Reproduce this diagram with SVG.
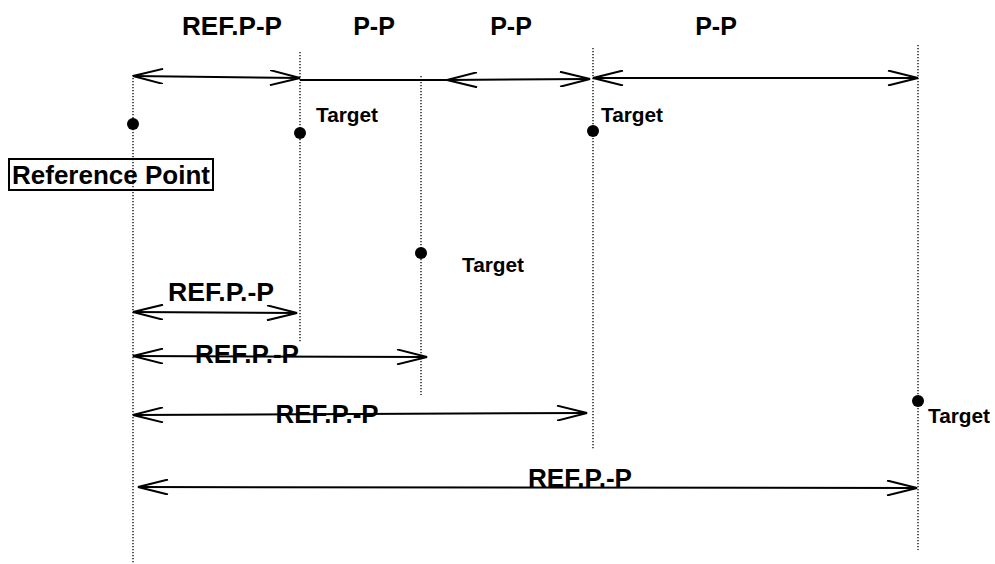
<svg xmlns="http://www.w3.org/2000/svg" width="995" height="564" viewBox="0 0 995 564">
<defs>
<style>
.guide{stroke:#000;stroke-width:1.3;stroke-dasharray:1.3 1.7;fill:none}
.dim{stroke:#000;stroke-width:2;fill:none}
.big{font-family:"Liberation Sans",Arial,sans-serif;font-weight:bold;font-size:25px;fill:#000;text-anchor:middle}
.tgt{font-family:"Liberation Sans",Arial,sans-serif;font-weight:bold;font-size:20px;fill:#000}
.dot{fill:#000}
</style>
<marker id="open" viewBox="0 0 32 16" refX="31" refY="8" markerWidth="32" markerHeight="16" markerUnits="userSpaceOnUse" orient="auto-start-reverse">
<path d="M1,0.5 L31,8 L1,15.5" fill="none" stroke="#000" stroke-width="2"/>
</marker>
</defs>
<rect width="995" height="564" fill="#fff"/>
<g id="guides">
<line class="guide" x1="133" y1="75" x2="133" y2="564"/>
<line class="guide" x1="300" y1="52" x2="300" y2="342"/>
<line class="guide" x1="421" y1="76" x2="421" y2="395"/>
<line class="guide" x1="593" y1="48" x2="593" y2="449"/>
<line class="guide" x1="918" y1="45" x2="918" y2="550"/>
</g>
<g id="connectors">
<line class="dim" x1="133" y1="76" x2="300" y2="78" marker-start="url(#open)" marker-end="url(#open)"/>
<line class="dim" x1="300" y1="80" x2="447" y2="80"/>
<line class="dim" x1="447" y1="80" x2="590" y2="79" marker-start="url(#open)" marker-end="url(#open)"/>
<line class="dim" x1="593" y1="78" x2="918" y2="78" marker-start="url(#open)" marker-end="url(#open)"/>
<line class="dim" x1="133" y1="312" x2="297" y2="313" marker-start="url(#open)" marker-end="url(#open)"/>
<line class="dim" x1="133" y1="356" x2="427" y2="357" marker-start="url(#open)" marker-end="url(#open)"/>
<line class="dim" x1="133" y1="415" x2="587" y2="413" marker-start="url(#open)" marker-end="url(#open)"/>
<line class="dim" x1="138" y1="487" x2="917" y2="488" marker-start="url(#open)" marker-end="url(#open)"/>
</g>
<g id="top-labels">
<text class="big" x="232" y="35" textLength="100" lengthAdjust="spacingAndGlyphs">REF.P-P</text>
<text class="big" x="374" y="35">P-P</text>
<text class="big" x="511" y="35">P-P</text>
<text class="big" x="716" y="35">P-P</text>
</g>
<g id="dim-labels">
<text class="big" x="221" y="301" textLength="106" lengthAdjust="spacingAndGlyphs">REF.P.-P</text>
<text class="big" x="247" y="363" textLength="104" lengthAdjust="spacingAndGlyphs">REF.P.-P</text>
<text class="big" x="327" y="423" textLength="103" lengthAdjust="spacingAndGlyphs">REF.P.-P</text>
<text class="big" x="580" y="487" textLength="104" lengthAdjust="spacingAndGlyphs">REF.P.-P</text>
</g>
<g id="reference-point">
<circle class="dot" cx="133" cy="124" r="6"/>
<rect x="9" y="159" width="204" height="31" fill="#fff" stroke="#000" stroke-width="2"/>
<line class="guide" x1="133" y1="159" x2="133" y2="190"/>
<text x="12" y="184" font-family="'Liberation Sans',Arial,sans-serif" font-weight="bold" font-size="25px" textLength="198" lengthAdjust="spacingAndGlyphs">Reference Point</text>
</g>
<g id="target1">
<circle class="dot" cx="300" cy="133" r="6"/>
<text class="tgt" x="316" y="122" textLength="62" lengthAdjust="spacingAndGlyphs">Target</text>
</g>
<g id="target2">
<circle class="dot" cx="421" cy="253" r="6"/>
<text class="tgt" x="462" y="272" textLength="62" lengthAdjust="spacingAndGlyphs">Target</text>
</g>
<g id="target3">
<circle class="dot" cx="593" cy="131" r="6"/>
<text class="tgt" x="601" y="122" textLength="62" lengthAdjust="spacingAndGlyphs">Target</text>
</g>
<g id="target4">
<circle class="dot" cx="918" cy="401" r="6"/>
<text class="tgt" x="928" y="423" textLength="62" lengthAdjust="spacingAndGlyphs">Target</text>
</g>
</svg>
